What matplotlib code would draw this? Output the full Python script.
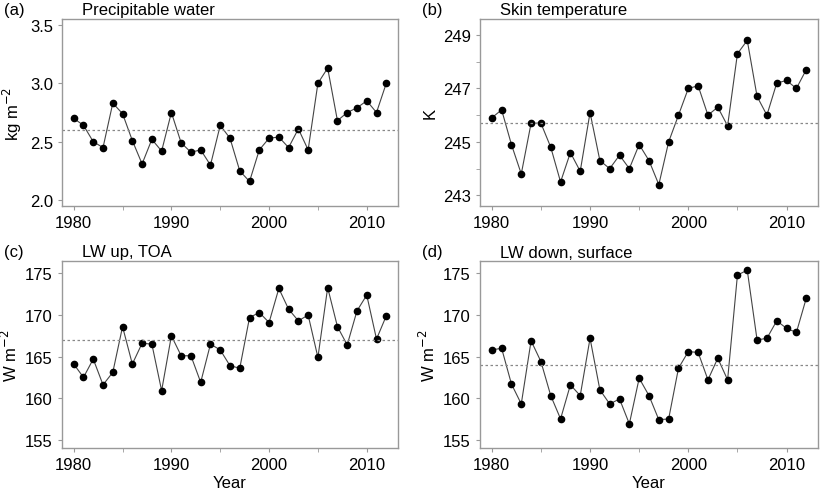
import numpy as np
import matplotlib
matplotlib.use("Agg")
import matplotlib.pyplot as plt

plt.rcParams["font.family"] = ["Liberation Sans", "DejaVu Sans"]

years = np.arange(1980, 2013)
pw = [2.70, 2.64, 2.50, 2.45, 2.83, 2.74, 2.51, 2.31, 2.52, 2.42, 2.75, 2.49, 2.41,
      2.43, 2.30, 2.64, 2.53, 2.25, 2.16, 2.43, 2.53, 2.54, 2.45, 2.61, 2.43, 3.00,
      3.13, 2.68, 2.75, 2.79, 2.85, 2.75, 3.00]
skin = [245.9, 246.2, 244.9, 243.8, 245.7, 245.7, 244.8, 243.5, 244.6, 243.9, 246.1,
        244.3, 244.0, 244.5, 244.0, 244.9, 244.3, 243.4, 245.0, 246.0, 247.0, 247.1,
        246.0, 246.3, 245.6, 248.3, 248.8, 246.7, 246.0, 247.2, 247.3, 247.0, 247.7]
lwup = [164.1, 162.5, 164.7, 161.6, 163.1, 168.6, 164.1, 166.6, 166.5, 160.9, 167.5,
        165.1, 165.1, 161.9, 166.5, 165.8, 163.9, 163.6, 169.7, 170.3, 169.1, 173.2,
        170.7, 169.3, 170.0, 164.9, 173.3, 168.6, 166.4, 170.5, 172.4, 167.1, 169.9]
lwdn = [165.8, 166.0, 161.7, 159.3, 166.9, 164.4, 160.3, 157.5, 161.6, 160.3, 167.2,
        161.0, 159.3, 159.9, 156.9, 162.4, 160.3, 157.4, 157.5, 163.6, 165.6, 165.5,
        162.2, 164.8, 162.2, 174.8, 175.4, 167.0, 167.2, 169.3, 168.4, 167.9, 172.0]
means = [2.60, 245.7, 167.0, 164.0]

fig = plt.figure(figsize=(8.25, 5.02), dpi=100)
W, H = 825, 502
boxes = [(62, 20, 398, 207), (480, 20, 818, 207), (62, 262, 398, 449), (480, 262, 818, 449)]
series = [pw, skin, lwup, lwdn]
titles = ["Precipitable water", "Skin temperature", "LW up, TOA", "LW down, surface"]
letters = ["(a)", "(b)", "(c)", "(d)"]
ylabels = ["kg m$^{-2}$", "K", "W m$^{-2}$", "W m$^{-2}$"]
ylims = [(1.95, 3.55), (242.6, 249.6), (154, 176.5), (154, 176.5)]
yticks = [[2.0, 2.5, 3.0, 3.5], [243, 245, 247, 249], [155, 160, 165, 170, 175], [155, 160, 165, 170, 175]]
yfmt = ["{:.1f}", "{:.0f}", "{:.0f}", "{:.0f}"]

for i, (x0, y0, x1, y1) in enumerate(boxes):
    ax = fig.add_axes([x0 / W, 1 - y1 / H, (x1 - x0) / W, (y1 - y0) / H])
    ax.plot(years, series[i], color="#444444", lw=0.8, marker="o", ms=4.5,
            mfc="black", mec="black")
    ax.axhline(means[i], color="#888888", lw=0.9, ls=(0, (2, 2)))
    ax.set_xlim(1978.8, 2013.2)
    ax.set_ylim(*ylims[i])
    ax.set_xticks([1980, 1990, 2000, 2010])
    ax.set_xticks(np.arange(1985, 2011, 10), minor=True)
    ax.set_yticks(yticks[i])
    ax.set_yticklabels([yfmt[i].format(v) for v in yticks[i]])
    if i == 1:
        ax.set_yticks([244, 246, 248], minor=True)
    for s in ax.spines.values():
        s.set_color("#999999")
        s.set_linewidth(1.0)
    ax.tick_params(which="both", direction="out", length=3, color="#999999",
                   labelsize=12)
    ax.set_ylabel(ylabels[i], fontsize=12)
    if i >= 2:
        ax.set_xlabel("Year", fontsize=12, labelpad=2)
    fig.text(x0 / W - 58 / W, 1 - (y0 - 9) / H, letters[i], fontsize=12, va="center")
    fig.text(x0 / W + 20 / W, 1 - (y0 - 9) / H, titles[i], fontsize=12, va="center")

fig.savefig("out.png", dpi=100)
